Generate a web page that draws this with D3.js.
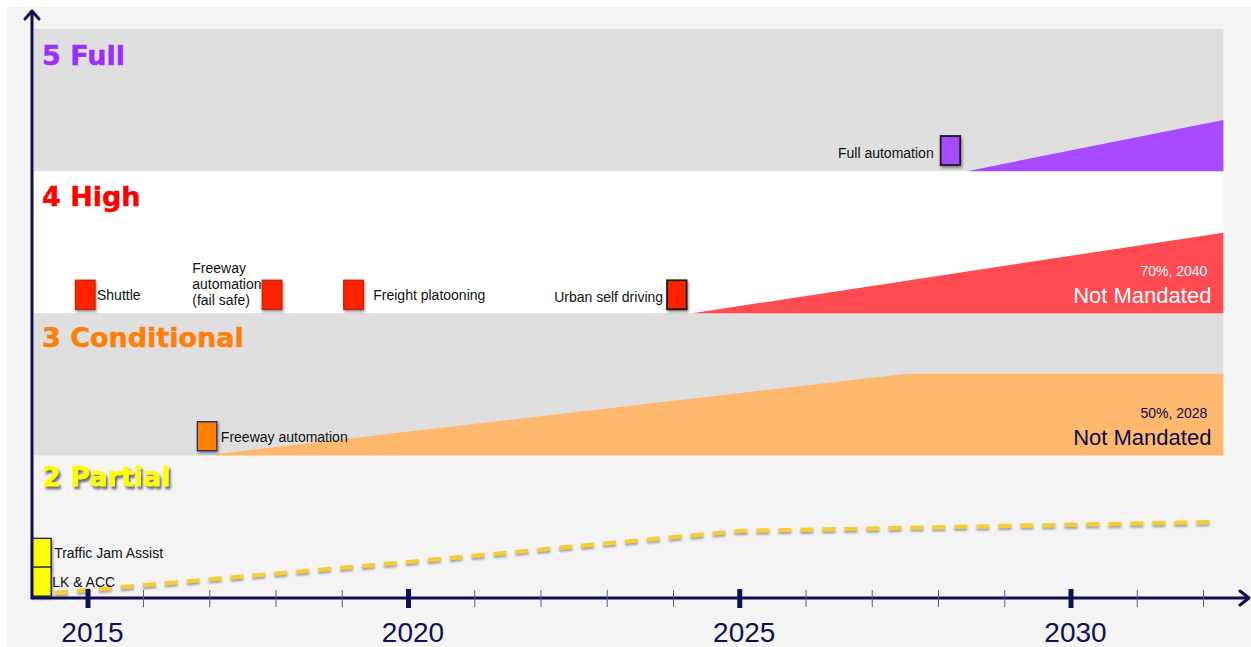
<!DOCTYPE html>
<html><head><meta charset="utf-8">
<script src="https://cdn.jsdelivr.net/npm/d3@7"></script>
<style>body{margin:0;background:#fff;} svg{display:block;}</style>
</head><body>
<svg id="chart" width="1251" height="647"></svg>
<script>
// ---------- data ----------
const levelValues = [5, 4, 3, 2];
const levelNames = ["5 Full", "4 High", "3 Conditional", "2 Partial"];

const majorYears = [2015, 2020, 2025, 2030];
const tickLabels = ["2015", "2020", "2025", "2030"];
const minorYears = [2016, 2017, 2018, 2019, 2021, 2022, 2023, 2024, 2026, 2027, 2028, 2029, 2031, 2032];

const markerNames = ["Traffic Jam Assist", "LK & ACC", "Shuttle", "Freeway|automation|(fail safe)",
  "Freight platooning", "Urban self driving", "Full automation", "Freeway automation"];
const markerYears = [2014.16, 2014.16, 2014.95, 2017.94, 2019.17, 2024.05, 2028.18, 2016.96];
const markerLevels = [2, 2, 4, 4, 4, 4, 5, 3];
const markerValues = [1.212, 1.01, 3.028, 3.028, 3.028, 3.028, 4.043, 2.033];

const fullYears = [2028.43, 2032.3];
const fullValues = [4.0, 4.36];
const highYears = [2024.28, 2032.3];
const highValues = [3.0, 3.567];
const condYears = [2017.10, 2027.52, 2032.3];
const condValues = [2.01, 2.575, 2.575];
const partialYears = [2014.41, 2020, 2025, 2032.17];
const partialValues = [1.032, 1.25, 1.468, 1.531];

const noteLevels = [4, 3];
const noteSmall = ["70%, 2040", "50%, 2028"];
const noteBig = ["Not Mandated", "Not Mandated"];

// ---------- styles / layout ----------
const AXIS = "#0f0f52";
const levelStyle = {
  5: {band: "#dfdfdf", text: "#9b2ffd", area: "#a64bff", marker: "#a64bff", mstroke: "#1c1c1c", titleDy: 36},
  4: {band: "#ffffff", text: "#ff0000", area: "#ff4b51", marker: "#ff2400", mstroke: "#c42000", titleDy: 35},
  3: {band: "#dfdfdf", text: "#ff7f0c", area: "#ffb96f", marker: "#ff7f00", mstroke: "#2b2b70", titleDy: 34},
  2: {band: "#f4f4f4", text: "#ffff00", area: "#f5cd36", marker: "#ffff00", mstroke: "#1b1b5c", titleDy: 31}
};
// label placement per marker: side and gap (layout only)
const markerLayout = [
  {side: "r", gap: 3}, {side: "r", gap: 1}, {side: "r", gap: 2}, {side: "ml", gap: 0},
  {side: "r", gap: 10}, {side: "l", gap: 4}, {side: "l", gap: 7}, {side: "r", gap: 4}
];

const svg = d3.select("#chart");
const x = d3.scaleLinear().domain([2014, 2015, 2016, 2030]).range([32.5, 88, 143.5, 1071]);
const y = d3.scaleLinear().domain([1, 5]).range([597.5, 29]);
const xEnd = 2032.3;

const defs = svg.append("defs");
const f1 = defs.append("filter").attr("id", "shadowText").attr("x", "-10%").attr("y", "-20%").attr("width", "130%").attr("height", "160%");
f1.append("feDropShadow").attr("dx", 2).attr("dy", 3).attr("stdDeviation", 1.3).attr("flood-color", "#444").attr("flood-opacity", 0.75);
const f2 = defs.append("filter").attr("id", "shadowBox").attr("x", "-30%").attr("y", "-30%").attr("width", "170%").attr("height", "170%");
f2.append("feDropShadow").attr("dx", 1).attr("dy", 2).attr("stdDeviation", 1.6).attr("flood-color", "#000").attr("flood-opacity", 0.45);
const f3 = defs.append("filter").attr("id", "shadowLine").attr("x", "-5%").attr("y", "-50%").attr("width", "110%").attr("height", "200%");
f3.append("feDropShadow").attr("dx", 0).attr("dy", 2).attr("stdDeviation", 0.8).attr("flood-color", "#666").attr("flood-opacity", 0.6);

// background
svg.append("rect").attr("x", 7).attr("y", 7).attr("width", 1244).attr("height", 640).attr("fill", "#f4f4f4");

// bands
svg.append("g").selectAll("rect").data(levelValues.filter(v => v !== 2)).join("rect")
  .attr("x", x(2014) + 1).attr("width", x(xEnd) - x(2014) - 1)
  .attr("y", d => y(d)).attr("height", d => y(d - 1) - y(d))
  .attr("fill", d => levelStyle[d].band);

// areas
function drawArea(years, values, level) {
  const pts = years.map((yr, i) => [yr, values[i]]);
  const area = d3.area().x(d => x(d[0])).y0(y(level - 1)).y1(d => y(d[1]));
  svg.append("path").datum(pts).attr("d", area).attr("fill", levelStyle[level].area);
}
drawArea(fullYears, fullValues, 5);
drawArea(highYears, highValues, 4);
drawArea(condYears, condValues, 3);

// partial dashed line
const line = d3.line().x(d => x(d[0])).y(d => y(d[1]));
svg.append("path").datum(partialYears.map((yr, i) => [yr, partialValues[i]]))
  .attr("d", line).attr("fill", "none").attr("stroke", levelStyle[2].area)
  .attr("stroke-width", 4.2).attr("stroke-dasharray", "13,9").attr("filter", "url(#shadowLine)");

// level titles
svg.append("g").selectAll("text").data(levelValues).join("text")
  .attr("x", 42).attr("y", d => y(d) + levelStyle[d].titleDy)
  .attr("font-family", "DejaVu Sans, sans-serif").attr("font-weight", "bold").attr("font-size", 27)
  .attr("fill", d => levelStyle[d].text)
  .attr("stroke", d => levelStyle[d].text).attr("stroke-width", 0.5)
  .attr("filter", d => d === 2 ? "url(#shadowText)" : null)
  .text((d, i) => levelNames[i]);

// notes
noteLevels.forEach((lv, i) => {
  const col = lv === 4 ? "#ffffff" : "#0d0d4a";
  svg.append("text").attr("x", x(xEnd) - 16).attr("y", y(lv - 1) - 37).attr("text-anchor", "end")
    .attr("font-family", "Liberation Sans, Arial, sans-serif").attr("font-size", 14).attr("fill", col).text(noteSmall[i]);
  svg.append("text").attr("x", x(xEnd) - 12).attr("y", y(lv - 1) - 10).attr("text-anchor", "end")
    .attr("font-family", "Liberation Sans, Arial, sans-serif").attr("font-size", 22).attr("fill", col).text(noteBig[i]);
});

// markers
const mw = 19.5, mh = 29;
const mg = svg.append("g");
markerNames.forEach((name, i) => {
  const lv = markerLevels[i];
  const cx = x(markerYears[i]);
  const by = y(markerValues[i]);
  const st = levelStyle[lv];
  const thick = (i === 5 || i === 6);
  mg.append("rect").attr("x", cx - mw / 2).attr("y", by - mh).attr("width", mw).attr("height", mh)
    .attr("fill", st.marker).attr("stroke", i === 5 ? "#1c1c1c" : st.mstroke)
    .attr("stroke-width", thick ? 1.8 : 1.3).attr("filter", "url(#shadowBox)");
  const lay = markerLayout[i];
  const t = mg.append("text").attr("font-family", "Liberation Sans, Arial, sans-serif")
    .attr("font-size", 14).attr("fill", "#111");
  if (lay.side === "ml") {
    const lines = name.split("|");
    const left = cx - mw / 2 - 70;
    lines.forEach((ln, k) => {
      t.append("tspan").attr("x", left).attr("y", by - 36 + k * 16).text(ln);
    });
  } else if (lay.side === "r") {
    t.attr("x", cx + mw / 2 + lay.gap).attr("y", by - 9).text(name);
  } else {
    t.attr("x", cx - mw / 2 - lay.gap).attr("y", by - 7).attr("text-anchor", "end").text(name);
  }
});

// axes
const axisY = 598;
const ax = svg.append("g");
ax.append("line").attr("x1", x(2014)).attr("x2", 1249).attr("y1", axisY).attr("y2", axisY)
  .attr("stroke", AXIS).attr("stroke-width", 3);
ax.append("path").attr("d", `M1240,${axisY - 7} L1249,${axisY} L1240,${axisY + 7}`)
  .attr("fill", "none").attr("stroke", AXIS).attr("stroke-width", 3).attr("stroke-linecap", "round").attr("stroke-linejoin", "round");
ax.append("line").attr("x1", x(2014) - 0.5).attr("x2", x(2014) - 0.5).attr("y1", axisY + 1.5).attr("y2", 11)
  .attr("stroke", AXIS).attr("stroke-width", 3);
ax.append("path").attr("d", `M${x(2014) - 7.5},19 L${x(2014) - 0.5},11 L${x(2014) + 6.5},19`)
  .attr("fill", "none").attr("stroke", AXIS).attr("stroke-width", 3).attr("stroke-linecap", "round").attr("stroke-linejoin", "round");

ax.selectAll("line.minor").data(minorYears).join("line").attr("class", "minor")
  .attr("x1", d => x(d)).attr("x2", d => x(d)).attr("y1", axisY - 8).attr("y2", axisY + 9)
  .attr("stroke", "#5b5b8c").attr("stroke-width", 1);
ax.selectAll("line.major").data(majorYears).join("line").attr("class", "major")
  .attr("x1", d => x(d)).attr("x2", d => x(d)).attr("y1", axisY - 9).attr("y2", axisY + 10)
  .attr("stroke", AXIS).attr("stroke-width", 5);
ax.selectAll("text.tick").data(majorYears).join("text").attr("class", "tick")
  .attr("x", d => x(d) + 4.5).attr("y", 642).attr("text-anchor", "middle")
  .attr("font-family", "Liberation Sans, Arial, sans-serif").attr("font-size", 28).attr("fill", "#111150")
  .text((d, i) => tickLabels[i]);
</script>
</body></html>
